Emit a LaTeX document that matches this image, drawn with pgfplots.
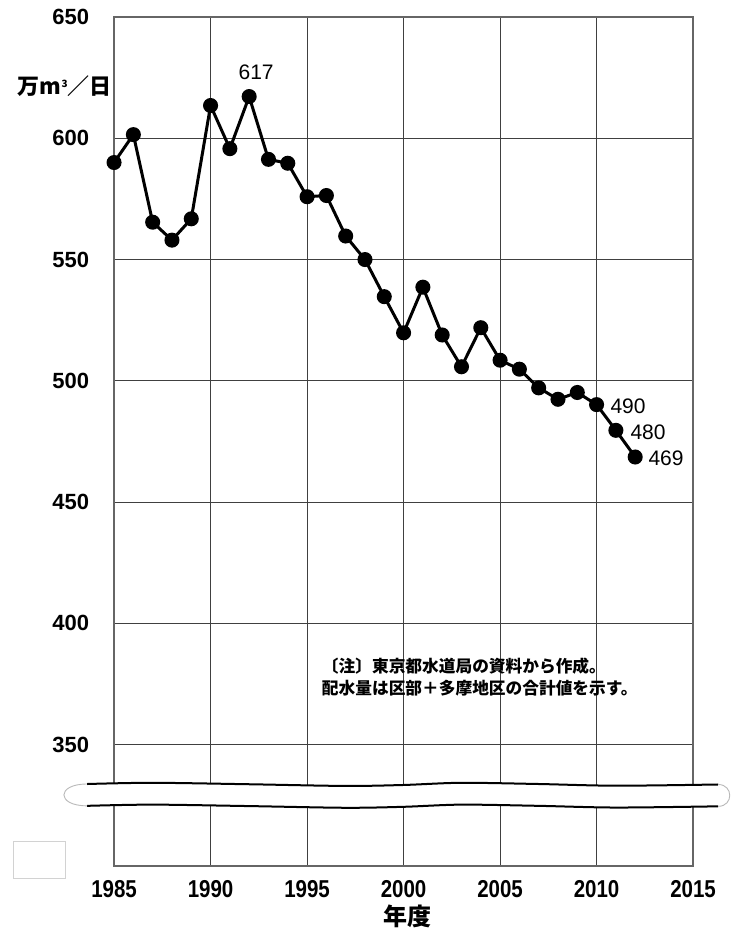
\documentclass[border=0pt]{standalone}
\usepackage{fontspec}
\setmainfont{Liberation Sans}
\newfontfamily\cjk{Noto Sans CJK JP}
\usepackage{graphicx}
\usepackage{pgfplots}
\pgfplotsset{compat=1.18}
\begin{document}
\begin{tikzpicture}
\begin{axis}[
  scale only axis, width=289.5pt, height=424.5pt,
  xmin=1985, xmax=2015, ymin=300, ymax=650,
  xtick={1985,1990,1995,2000,2005,2010,2015},
  xticklabels={\scalebox{0.84}[1]{1985},\scalebox{0.84}[1]{1990},\scalebox{0.84}[1]{1995},\scalebox{0.84}[1]{2000},\scalebox{0.84}[1]{2005},\scalebox{0.84}[1]{2010},\scalebox{0.84}[1]{2015}},
  ytick={350,400,450,500,550,600,650},
  /pgf/number format/assume math mode=true,
  /pgf/number format/1000 sep={},
  grid=major,
  major grid style={black!75, line width=0.5pt},
  axis line style={black!60, line width=0.6pt},
  tick style={draw=none},
  xticklabel style={font=\bfseries\fontsize{12.2}{12.2}\selectfont, yshift=-3.5pt},
  yticklabel style={font=\bfseries\fontsize{11}{11}\selectfont, xshift=-9pt},
  clip=false,
]
\addplot[black, line width=1.5pt, mark=*, mark size=3pt] coordinates {
(1985,590.0) (1986,601.5) (1987,565.4) (1988,558.0) (1989,566.8)
(1990,613.5) (1991,595.7) (1992,617.2) (1993,591.3) (1994,589.7)
(1995,575.9) (1996,576.4) (1997,559.7) (1998,550.0) (1999,534.7)
(2000,519.8) (2001,538.6) (2002,518.9) (2003,505.8) (2004,521.9)
(2005,508.5) (2006,504.8) (2007,497.1) (2008,492.4) (2009,495.2)
(2010,490.2) (2011,479.6) (2012,468.6)
};
% axis break band
\fill[white] plot[smooth] coordinates {(1982.6,333.8) (1987,334.3) (1992,333.7) (1997,333.0) (2000,333.4) (2003,334.3) (2007,333.8) (2011,333.1) (2016.8,333.6)}
  -- plot[smooth] coordinates {(2016.8,324.6) (2011,324.1) (2007,324.8) (2003,325.3) (2000,324.4) (1997,324.0) (1992,324.7) (1987,325.3) (1982.6,324.8)} -- cycle;
\draw[black, line width=1pt] plot[smooth] coordinates {(1983.6,333.8) (1987,334.3) (1992,333.7) (1997,333.0) (2000,333.4) (2003,334.3) (2007,333.8) (2011,333.1) (2016.3,333.6)};
\draw[black, line width=1pt] plot[smooth] coordinates {(1983.6,324.8) (1987,325.3) (1992,324.7) (1997,324.0) (2000,324.4) (2003,325.3) (2007,324.8) (2011,324.1) (2016.3,324.6)};
\draw[gray!55, line width=0.45pt] (1983.6,333.8) .. controls (1982.0,333.8) and (1982.0,324.8) .. (1983.6,324.8);
\draw[gray!55, line width=0.45pt] (2016.3,333.6) .. controls (2017.1,333.6) and (2017.1,324.6) .. (2016.3,324.6);
% note
\node[anchor=west, align=left, font=\cjk\bfseries\fontsize{8.35}{11.2}\selectfont, inner sep=0pt] at (1995.75,377.8) {〔注〕東京都水道局の資料から作成。\\配水量は区部＋多摩地区の合計値を示す。};
% unit label
\node[anchor=east, font=\cjk\bfseries\fontsize{11}{11}\selectfont, inner sep=0pt] at (1984.9,621.6) {万m\raisebox{0.6ex}{\fontsize{5}{5}\selectfont 3}／日};
% value labels
\node[font=\fontsize{10.5}{10.5}\selectfont, inner sep=0pt] at (1992.36,627.3) {617};
\node[anchor=west, font=\fontsize{10.5}{10.5}\selectfont, inner sep=0pt] at (2010.7,489.7) {490};
\node[anchor=west, font=\fontsize{10.5}{10.5}\selectfont, inner sep=0pt] at (2011.74,478.9) {480};
\node[anchor=west, font=\fontsize{10.5}{10.5}\selectfont, inner sep=0pt] at (2012.67,468.2) {469};
% empty box
\draw[gray!35, line width=0.5pt] (1979.8,295.05) rectangle (1982.5,310.3);
% x label
\node[font=\cjk\bfseries\fontsize{12}{12}\selectfont] at (2000.2,279.3) {年度};
\coordinate (bl) at (1979.09,274.44);
\coordinate (tr) at (2017.18,657.0);
\end{axis}
\pgfresetboundingbox
\path[use as bounding box] (bl) rectangle (tr);
\end{tikzpicture}
\end{document}
